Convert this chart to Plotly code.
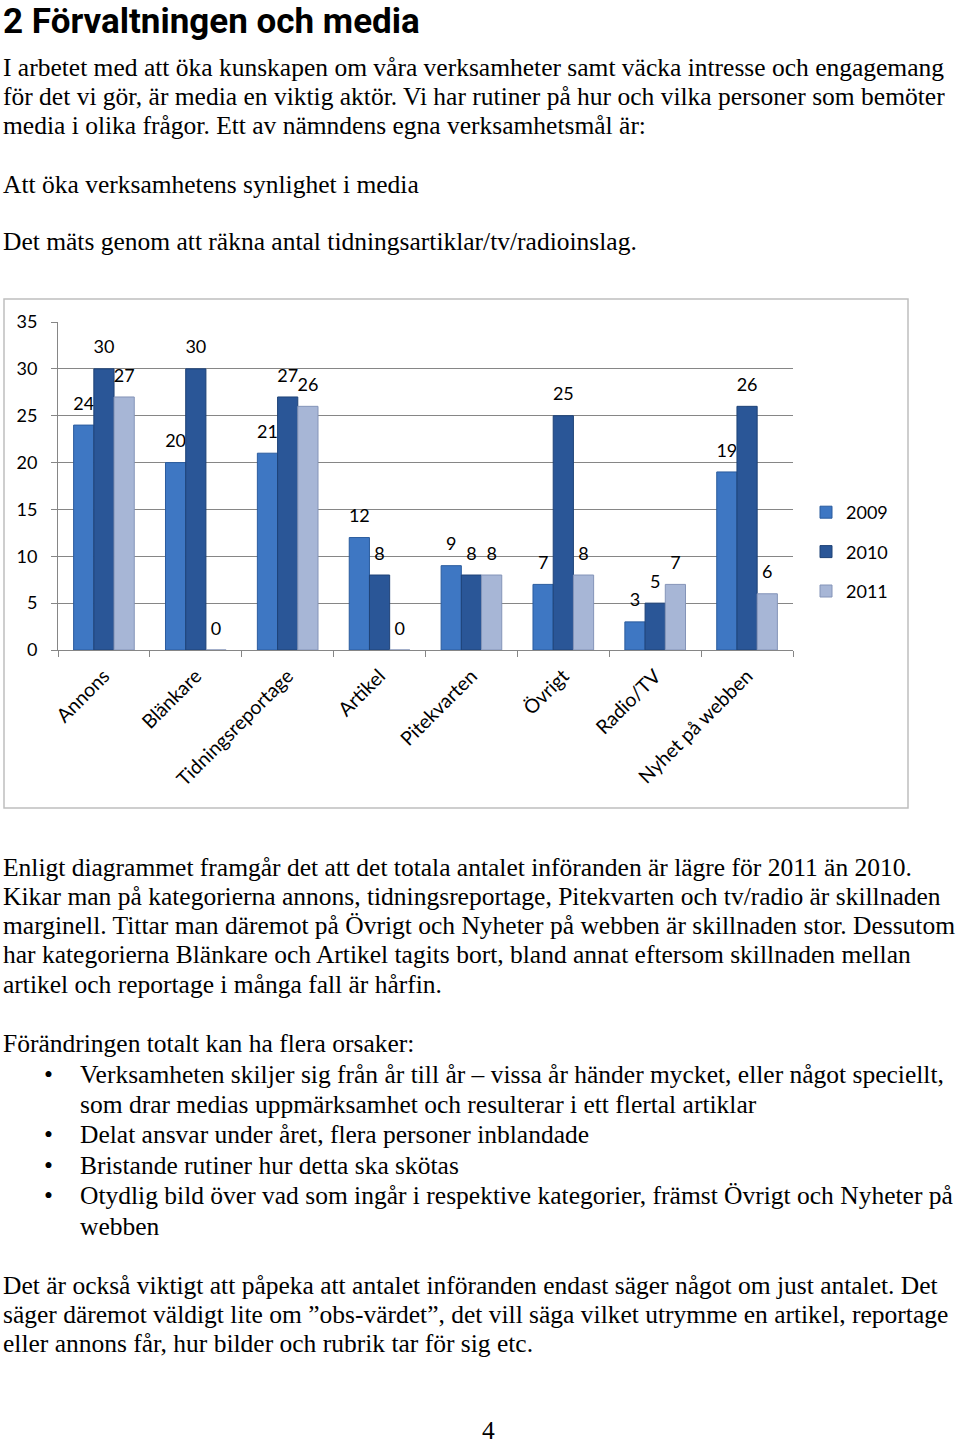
import plotly.graph_objects as go

W, H = 960, 1446

categories = ["Annons", "Blänkare", "Tidningsreportage", "Artikel",
              "Pitekvarten", "Övrigt", "Radio/TV", "Nyhet på webben"]
years = ["2009", "2010", "2011"]
values_2009 = [24, 20, 21, 12, 9, 7, 3, 19]
values_2010 = [30, 30, 27, 8, 8, 25, 5, 26]
values_2011 = [27, 0, 26, 0, 8, 8, 7, 6]
y_ticks = [0, 5, 10, 15, 20, 25, 30, 35]

colors = ["#3E77C3", "#2A5697", "#A7B6D6"]
edge = ["#2B5C9E", "#1E4277", "#8494B8"]

title_text = "2 Förvaltningen och media"
intro_lines = [
    "I arbetet med att öka kunskapen om våra verksamheter samt väcka intresse och engagemang",
    "för det vi gör, är media en viktig aktör. Vi har rutiner på hur och vilka personer som bemöter",
    "media i olika frågor. Ett av nämndens egna verksamhetsmål är:",
]
goal_line = "Att öka verksamhetens synlighet i media"
measure_line = "Det mäts genom att räkna antal tidningsartiklar/tv/radioinslag."
after_lines = [
    "Enligt diagrammet framgår det att det totala antalet införanden är lägre för 2011 än 2010.",
    "Kikar man på kategorierna annons, tidningsreportage, Pitekvarten och tv/radio är skillnaden",
    "marginell. Tittar man däremot på Övrigt och Nyheter på webben är skillnaden stor. Dessutom",
    "har kategorierna Blänkare och Artikel tagits bort, bland annat eftersom skillnaden mellan",
    "artikel och reportage i många fall är hårfin.",
]
causes_intro = "Förändringen totalt kan ha flera orsaker:"
bullets = [
    ["Verksamheten skiljer sig från år till år – vissa år händer mycket, eller något speciellt,",
     "som drar medias uppmärksamhet och resulterar i ett flertal artiklar"],
    ["Delat ansvar under året, flera personer inblandade"],
    ["Bristande rutiner hur detta ska skötas"],
    ["Otydlig bild över vad som ingår i respektive kategorier, främst Övrigt och Nyheter på",
     "webben"],
]
final_lines = [
    "Det är också viktigt att påpeka att antalet införanden endast säger något om just antalet. Det",
    "säger däremot väldigt lite om ”obs-värdet”, det vill säga vilket utrymme en artikel, reportage",
    "eller annons får, hur bilder och rubrik tar för sig etc.",
]
page_number = "4"

def px(x):
    return x / W

def py(y):
    return 1 - y / H

chart_font = "Lato, 'Open Sans', sans-serif"
body_font = "'Liberation Serif', 'Times New Roman', serif"

fig = go.Figure()
for name, vals, c, e in zip(years, [values_2009, values_2010, values_2011], colors, edge):
    fig.add_trace(go.Bar(
        name=name, x=categories, y=vals,
        marker=dict(color=c, line=dict(color=e, width=1)),
        text=[str(v) for v in vals],
        texttemplate="<span style='font-size:18px'>%{text}</span><br> ",
        textposition="outside", constraintext="none", cliponaxis=False,
        textfont=dict(family=chart_font, size=8, color="#000000"),
        legendgroup=name,
    ))

fig.update_layout(
    width=W, height=H,
    margin=dict(l=0, r=0, t=0, b=0, pad=0, autoexpand=False),
    paper_bgcolor="white", plot_bgcolor="white",
    barmode="group", bargap=0.34, bargroupgap=0.0,
    showlegend=True,
    legend=dict(x=px(806), y=py(494), xanchor="left", yanchor="top",
                font=dict(family=chart_font, size=18, color="#000000"),
                tracegroupgap=13, itemwidth=30, bgcolor="rgba(0,0,0,0)"),
    xaxis=dict(domain=[px(58), px(793)], type="category", automargin=False,
               tickangle=-45, tickson="boundaries", ticks="outside", ticklen=6,
               tickcolor="#868686", showline=True, linecolor="#868686", linewidth=1,
               showgrid=False, ticklabelstandoff=6,
               tickfont=dict(family=chart_font, size=19.5, color="#000000"),
               anchor="y"),
    yaxis=dict(domain=[py(650), py(322)], range=[0, 35], tickvals=y_ticks,
               automargin=False,
               ticks="outside", ticklen=6, tickcolor="#868686",
               showline=True, linecolor="#868686", linewidth=1,
               showgrid=True, gridcolor="#868686", gridwidth=1,
               zeroline=False,
               tickfont=dict(family=chart_font, size=18, color="#000000"),
               ticklabelstandoff=10, anchor="x"),
)

# chart frame
fig.add_shape(type="rect", xref="paper", yref="paper",
              x0=px(4), x1=px(908), y0=py(808), y1=py(299),
              line=dict(color="#BFBFBF", width=1.5), layer="below")

ann = []
def text_line(t, x, y, size=25.5, family=body_font, bold=False, xanchor="left",
              yanchor="middle"):
    ann.append(dict(text=(f"<b>{t}</b>" if bold else t), x=px(x), y=py(y),
                    xref="paper", yref="paper", xanchor=xanchor, yanchor=yanchor,
                    showarrow=False, align="left", borderpad=0,
                    font=dict(family=family, size=size, color="#000000")))

text_line(title_text, 2, 0, size=35, family="Roboto, 'Noto Sans', sans-serif", bold=True,
          yanchor="top")
for i, t in enumerate(intro_lines):
    text_line(t, 2, 67 + i * 29.3)
text_line(goal_line, 2, 184)
text_line(measure_line, 2, 242)
for i, t in enumerate(after_lines):
    text_line(t, 2, 867 + i * 29.3)
text_line(causes_intro, 2, 1043)
y = 1074
for b in bullets:
    text_line("•", 43, y)
    for t in b:
        text_line(t, 79, y)
        y += 30.4
for i, t in enumerate(final_lines):
    text_line(t, 2, 1285 + i * 29.3)
text_line(page_number, 488, 1446, xanchor="center", yanchor="bottom")

fig.update_layout(annotations=ann)
fig.write_html("out.html", config={"displayModeBar": False},
               post_script="document.body.style.margin='0px';")
